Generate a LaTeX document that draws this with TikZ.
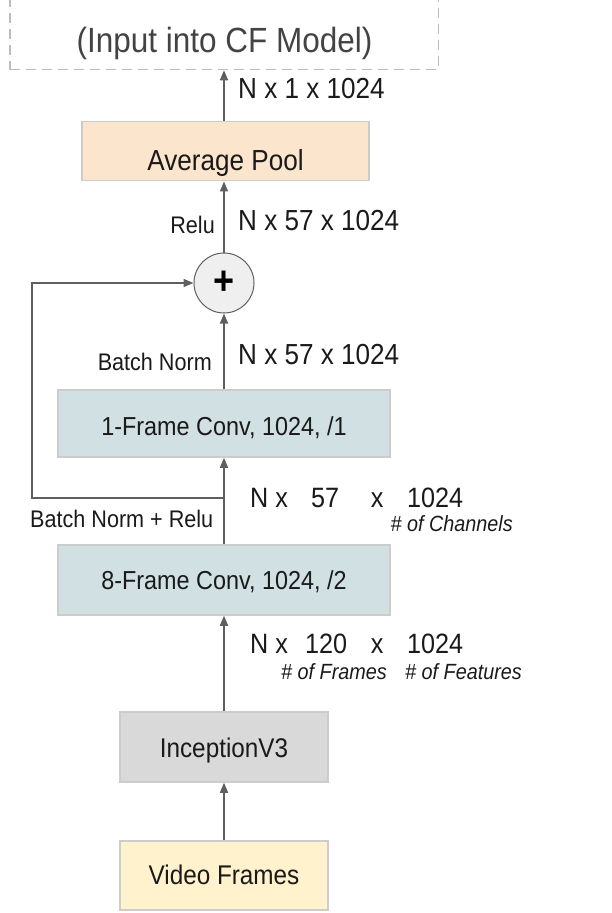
\documentclass[tikz,border=0pt]{standalone}
\usepackage{fontspec}
\setmainfont{Liberation Sans}[FakeStretch=0.9]
\usetikzlibrary{arrows.meta}
\definecolor{peach}{HTML}{FCE5CD}
\definecolor{bluegray}{HTML}{D0E0E3}
\definecolor{incgray}{HTML}{D9D9D9}
\definecolor{lightyel}{HTML}{FFF2CC}
\definecolor{circfill}{HTML}{EFEFEF}
\definecolor{boxline}{HTML}{CCCCCC}
\definecolor{dashgray}{HTML}{BBBBBB}
\definecolor{arrgray}{HTML}{5F5F5F}
\definecolor{txt}{HTML}{1A1A1A}
\definecolor{cfgray}{HTML}{434343}
\newcommand\fsz[1]{\fontsize{#1}{#1}\selectfont}
\begin{document}
\begin{tikzpicture}[x=1pt,y=-1pt,
  box/.style={draw=boxline, line width=1.5pt, rectangle, inner sep=0pt, text=txt, text depth=0pt},
  lbl/.style={inner sep=0pt, text=txt},
  arr/.style={draw=arrgray, line width=1.5pt, -{Triangle[length=10pt,width=8pt]}},
]
\useasboundingbox (0,0) rectangle (611,913);
\clip (0,0) rectangle (611,913);

% dashed output box
\node[box, draw=dashgray, dash pattern=on 10pt off 6pt, minimum width=428.5pt, minimum height=80pt] (cf) at (224,29.5) {};
\node[lbl, anchor=base, text=cfgray] (cft) at (224.5,52) {\fsz{35}(Input into CF Model)};

% boxes
\node[box, fill=peach, minimum width=287pt, minimum height=59pt, text height=38pt] (ap) at (225.5,151.2) {\fsz{29}Average Pool};
\node[circle, draw=arrgray, line width=1pt, fill=circfill, minimum size=60pt, inner sep=0pt, text=black] (sum) at (224,283) {\fsz{40}\bfseries +};
\node[box, fill=bluegray, minimum width=332pt, minimum height=67pt, text height=23pt] (c1) at (224,423.5) {\fsz{26}1-Frame Conv, 1024, /1};
\node[box, fill=bluegray, minimum width=332pt, minimum height=70pt, text height=18pt] (c8) at (224,580) {\fsz{26}8-Frame Conv, 1024, /2};
\node[box, fill=incgray, minimum width=208pt, minimum height=70pt, text height=20pt] (inc) at (224,747) {\fsz{27}InceptionV3};
\node[box, fill=lightyel, minimum width=208pt, minimum height=69pt, text height=17pt] (vf) at (224,875.5) {\fsz{27}Video Frames};

% labels
\node[lbl, anchor=base west] (l1) at (238,98.3) {\fsz{29}N x 1 x 1024};
\node[lbl, anchor=base west] (l2) at (238,230) {\fsz{29}N x 57 x 1024};
\node[lbl, anchor=base east] (relu) at (215,233) {\fsz{24}Relu};
\node[lbl, anchor=base east] (bn) at (212,370) {\fsz{24}Batch Norm};
\node[lbl, anchor=base west] (l3) at (238,364) {\fsz{29}N x 57 x 1024};
\node[lbl, anchor=base west] (l4) at (250,507) {\fsz{28}\rlap{N x}\hspace{75pt}\makebox[0pt]{57}\hspace{52pt}\makebox[0pt]{x}\hspace{58pt}\makebox[0pt]{1024}};
\node[lbl, anchor=base east] (chan) at (513,531) {\fsz{22}\itshape \# of Channels};
\node[lbl, anchor=base west] (bnr) at (30,527) {\fsz{24}Batch Norm + Relu};
\node[lbl, anchor=base west] (l5) at (250,653) {\fsz{28}\rlap{N x}\hspace{76pt}\makebox[0pt]{120}\hspace{51pt}\makebox[0pt]{x}\hspace{58pt}\makebox[0pt]{1024}};
\node[lbl, anchor=base west] (fr) at (281,679) {\fsz{22}\itshape \# of Frames};
\node[lbl, anchor=base west] (fe) at (405,679) {\fsz{22}\itshape \# of Features};

% connectors
\coordinate (j) at (224,498);
\coordinate (k) at (32,498);
\draw[arr] (cf.south |- ap.north) -- (cf.south);
\draw[arr] (sum.north) -- (sum.north |- ap.south);
\draw[arr] (c1.north) -- (sum.south);
\draw[arr] (c8.north) -- (c1.south);
\draw[arr] (j) -- (k) |- (sum.west);
\draw[arr] (inc.north) -- (c8.south);
\draw[arr] (vf.north) -- (inc.south);
\end{tikzpicture}
\end{document}
